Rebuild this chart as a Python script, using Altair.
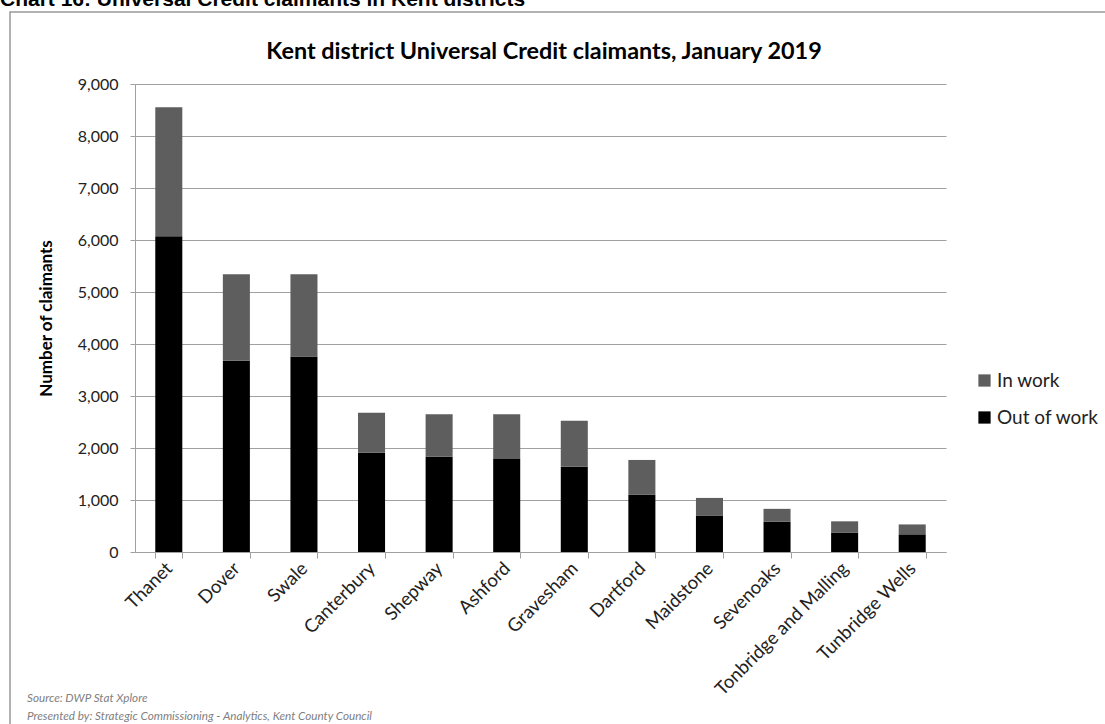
import altair as alt
import pandas as pd

districts = ["Thanet", "Dover", "Swale", "Canterbury", "Shepway", "Ashford",
             "Gravesham", "Dartford", "Maidstone", "Sevenoaks",
             "Tonbridge and Malling", "Tunbridge Wells"]
out_of_work = [6070, 3680, 3760, 1910, 1830, 1790, 1640, 1100, 700, 585, 375, 340]
in_work = [2485, 1660, 1580, 770, 820, 860, 885, 670, 340, 245, 215, 190]
y_ticks = [0, 1000, 2000, 3000, 4000, 5000, 6000, 7000, 8000, 9000]
status_names = ["In work", "Out of work"]
status_colors = ["#5e5e5e", "#000000"]

rows = []
for d, o, i in zip(districts, out_of_work, in_work):
    rows.append({"District": d, "Status": "Out of work", "Claimants": o, "ord": 0})
    rows.append({"District": d, "Status": "In work", "Claimants": i, "ord": 1})
df = pd.DataFrame(rows)

FONT = "Lato"
GRAY = "#a0a0a0"
W, H = 811, 468
PL, PT = 135, 84
PR, PB = 1105 - PL - W, 724 - PT - H

bars = alt.Chart(df).mark_bar().encode(
    x=alt.X("District:N", sort=districts,
            scale=alt.Scale(paddingInner=0.6, paddingOuter=0.3),
            axis=alt.Axis(title=None, labelAngle=-45, labelAlign="right",
                          labelBaseline="middle", labelFont=FONT, labelFontSize=18.5,
                          labelColor="#222222", labelPadding=7, tickBand="extent",
                          tickSize=6, tickColor=GRAY, domainColor=GRAY, grid=False,
                          labelOverlap=False)),
    y=alt.Y("Claimants:Q", stack="zero",
            scale=alt.Scale(domain=[0, 9000], nice=False),
            axis=alt.Axis(values=y_ticks, format=",.0f", title="Number of claimants",
                          titleFont=FONT, titleFontSize=17, titleFontWeight="bold",
                          titleColor="black", titlePadding=22,
                          labelFont=FONT, labelFontSize=16, labelColor="#222222",
                          labelPadding=12, tickSize=5, tickColor=GRAY,
                          domainColor=GRAY, gridColor=GRAY, gridWidth=1.2)),
    color=alt.Color("Status:N",
                    scale=alt.Scale(domain=status_names, range=status_colors),
                    legend=alt.Legend(title=None, orient="none", legendX=840, legendY=287,
                                      symbolType="square", symbolSize=150,
                                      symbolStrokeWidth=0, labelFont=FONT,
                                      labelFontSize=19, labelColor="#222222",
                                      rowPadding=17, labelOffset=3)),
    order=alt.Order("ord:Q"),
)

one = pd.DataFrame({"a": [0]})

border = alt.Chart(one).mark_rect(fill=None, stroke="#999999", strokeWidth=1.5).encode(
    x=alt.value(10 - PL), x2=alt.value(1110 - PL),
    y=alt.value(12 - PT), y2=alt.value(730 - PT),
)

top_title = alt.Chart(one).mark_text(
    text="Chart 16: Universal Credit claimants in Kent districts",
    font="Liberation Sans", fontSize=21, fontWeight="bold", align="left",
    baseline="alphabetic", color="black"
).encode(x=alt.value(0 - PL), y=alt.value(6 - PT))

main_title = alt.Chart(one).mark_text(
    text="Kent district Universal Credit claimants, January 2019",
    font=FONT, fontSize=23.4, fontWeight="bold", align="center",
    baseline="middle", color="black"
).encode(x=alt.value(544 - PL), y=alt.value(52 - PT))

src = alt.Chart(one).mark_text(
    text="Source: DWP Stat Xplore", font=FONT, fontSize=11.7, fontStyle="italic",
    align="left", baseline="middle", color="#808080"
).encode(x=alt.value(27 - PL), y=alt.value(698 - PT))

pres = alt.Chart(one).mark_text(
    text="Presented by: Strategic Commissioning - Analytics, Kent County Council",
    font=FONT, fontSize=11.7, fontStyle="italic",
    align="left", baseline="middle", color="#808080"
).encode(x=alt.value(27 - PL), y=alt.value(716 - PT))

chart = alt.layer(border, bars, top_title, main_title, src, pres).properties(
    width=W, height=H,
    padding={"left": PL, "top": PT, "right": PR, "bottom": PB},
    autosize=alt.AutoSizeParams(type="none"),
    background="white",
).configure_view(stroke=None)

chart.save("out.html", embed_options={"renderer": "svg", "actions": False})
